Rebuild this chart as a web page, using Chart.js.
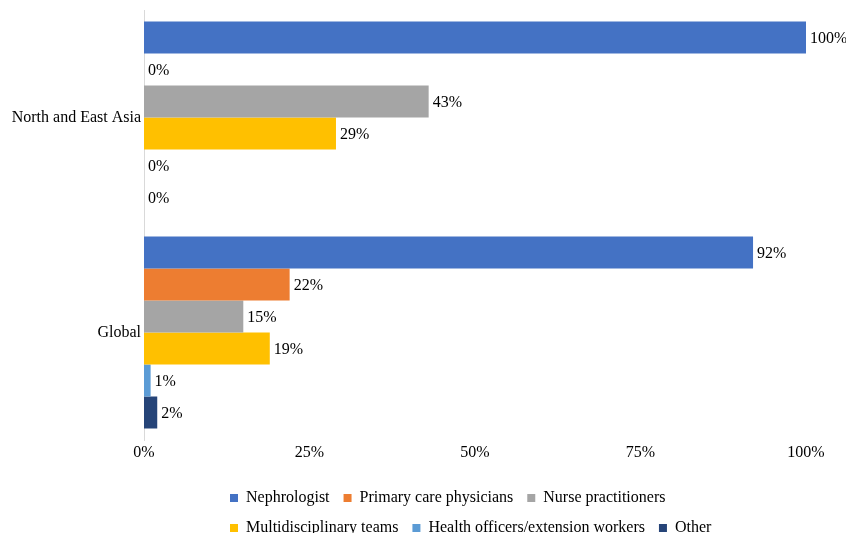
<!DOCTYPE html>
<html>
<head>
<meta charset="utf-8">
<script src="https://cdn.jsdelivr.net/npm/chart.js@4"></script>
<style>
  body { margin: 0; background: #fff; }
  #wrap { width: 846px; height: 533px; }
</style>
</head>
<body>
<div id="wrap"><canvas id="chart"></canvas></div>
<script>
const regions = ["North and East Asia", "Global"];
const seriesNames = ["Nephrologist", "Primary care physicians", "Nurse practitioners",
  "Multidisciplinary teams", "Health officers/extension workers", "Other"];
const nephrologist = [100, 92];
const primaryCare = [0, 22];
const nursePractitioners = [43, 15];
const multidisciplinary = [29, 19];
const healthOfficers = [0, 1];
const other = [0, 2];
const xTicks = [0, 25, 50, 75, 100];

const colors = ["#4472C4", "#ED7D31", "#A5A5A5", "#FFC000", "#5B9BD5", "#264478"];
const allValues = [nephrologist, primaryCare, nursePractitioners, multidisciplinary, healthOfficers, other];

Chart.defaults.font.family = "'Liberation Serif', 'Times New Roman', serif";
Chart.defaults.font.size = 16;
Chart.defaults.color = "#000";

// value labels at the end of each bar
const barLabels = {
  id: "barLabels",
  afterDatasetsDraw(chart) {
    const ctx = chart.ctx;
    ctx.save();
    ctx.font = "16px 'Liberation Serif', serif";
    ctx.fillStyle = "#000";
    ctx.textAlign = "left";
    ctx.textBaseline = "middle";
    chart.data.datasets.forEach((ds, i) => {
      chart.getDatasetMeta(i).data.forEach((bar, j) => {
        ctx.fillText(ds.data[j] + "%", bar.x + 4, bar.y + 1);
      });
    });
    ctx.restore();
  }
};

// keep the legend in two rows of three, left aligned under the plot
const legendRows = {
  id: "legendRows",
  afterInit(chart) {
    const lg = chart.legend;
    const fitRows = lg._fitRows;
    lg._fitRows = function (...args) {
      const full = this.maxWidth;
      this.maxWidth = 580;
      const h = fitRows.apply(this, args);
      this.maxWidth = full;
      return h;
    };
  },
  afterLayout(chart) {
    chart.legend.left = 216;
  }
};

new Chart(document.getElementById("chart"), {
  type: "bar",
  data: {
    labels: regions,
    datasets: seriesNames.map((name, i) => ({
      label: name,
      data: allValues[i],
      backgroundColor: colors[i],
      categoryPercentage: 0.893,
      barPercentage: 1
    }))
  },
  options: {
    indexAxis: "y",
    responsive: true,
    maintainAspectRatio: false,
    animation: false,
    layout: { padding: { top: 10, right: 40, bottom: -13, left: 0 } },
    scales: {
      x: {
        min: 0,
        max: 100,
        afterBuildTicks(scale) { scale.ticks = xTicks.map(v => ({ value: v })); },
        afterFit(scale) { scale.height = 36; },
        ticks: { padding: 3, callback: v => v + "%" },
        grid: { display: false, drawTicks: false },
        border: { display: false }
      },
      y: {
        afterFit(scale) {
          scale.width = 144;
          scale.paddingTop = 0;
          scale.paddingBottom = 0;
        },
        ticks: { padding: 3 },
        grid: { display: false, drawTicks: false },
        border: { display: true, color: "#d9d9d9", width: 1 }
      }
    },
    plugins: {
      legend: {
        position: "bottom",
        align: "start",
        labels: { boxWidth: 8, boxHeight: 8, padding: 14, font: { size: 16 } }
      },
      tooltip: { enabled: false }
    }
  },
  plugins: [barLabels, legendRows]
});
</script>
</body>
</html>
